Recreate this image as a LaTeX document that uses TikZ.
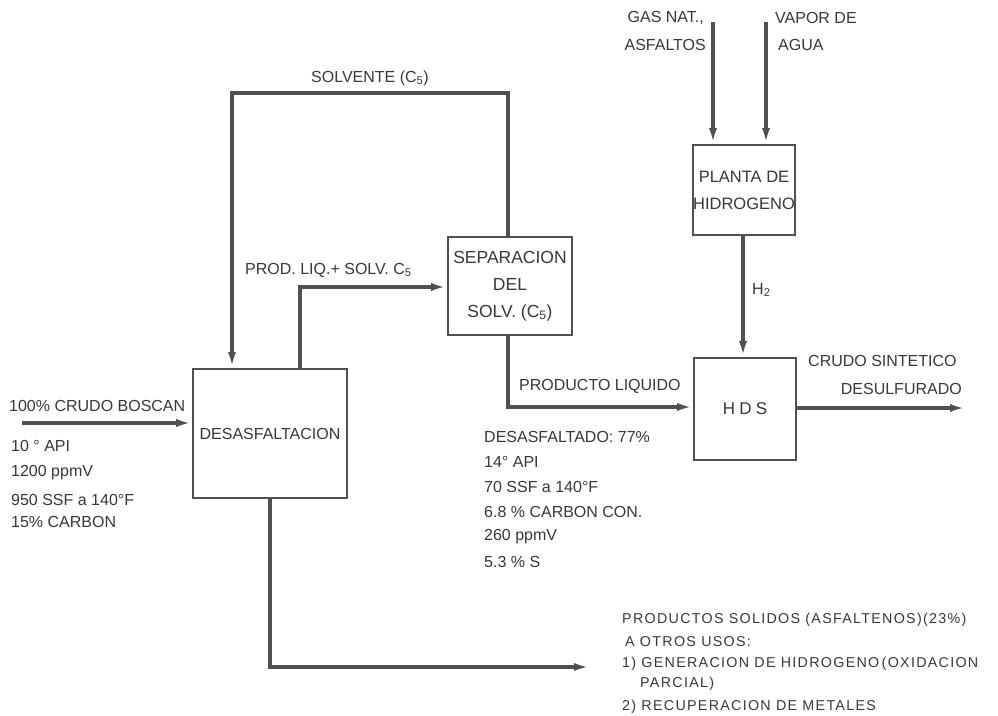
\documentclass[tikz,border=0pt]{standalone}
\usepackage{fontspec}
\setmainfont{Liberation Sans}
\newfontfamily\widefont[LetterSpace=9]{Liberation Sans}
\newfontfamily\hdsfont[LetterSpace=25]{Liberation Sans}
\usetikzlibrary{arrows.meta}
\definecolor{ink}{HTML}{505050}
\definecolor{txt}{HTML}{383838}
\begin{document}
\begin{tikzpicture}[x=1pt,y=-1pt,
  unit/.style={draw=ink,line width=1.8pt,minimum width=#1,inner sep=0pt,font=\fontsize{16}{27}\selectfont,text=txt,align=center},
  flow/.style={draw=ink,line width=3.2pt},
  arr/.style={flow,-{Latex[length=16pt,width=8pt]}},
  lbl/.style={text=txt,font=\fontsize{16}{19}\selectfont,inner sep=0pt},
  sml/.style={text=txt,font=\widefont\fontsize{14.3}{17}\selectfont,inner sep=0pt}]
\useasboundingbox (0,0) rectangle (998,715);
\fill[white] (0,0) rectangle (998,715);
% units
\node[unit=154pt,minimum height=129pt] (des) at (270,433.5) {DESASFALTACION};
\node[unit=124pt,minimum height=98pt,font=\fontsize{17.5}{27}\selectfont] (sep) at (510,286) {SEPARACION\\DEL\\SOLV. (C\textsubscript{5})};
\node[unit=102pt,minimum height=90pt,font=\fontsize{16.5}{27}\selectfont] (pla) at (744,190) {PLANTA DE\\HIDROGENO};
\node[unit=102pt,minimum height=102pt,font=\hdsfont\fontsize{17}{20}\selectfont] (hds) at (745,409) {HDS};
% free ends
\coordinate (cin) at (22,423);
\coordinate (gas) at (713,22);
\coordinate (vap) at (766,22);
\coordinate (cout) at (966,408);
\coordinate (sol) at (590,667);
% connectors
\draw[arr] (sep.north -| 508,0) |- (232,93) -- (232,0 |- des.north);
\draw[arr] (300,0 |- des.north) |- (sep.west |- 0,287);
\draw[arr] (sep.south -| 508,0) |- (hds.west |- 0,407);
\draw[arr] (cin) -- (des.west |- cin);
\draw[arr] (gas) -- (gas |- pla.north);
\draw[arr] (vap) -- (vap |- pla.north);
\draw[arr] (pla.south -| 743,0) -- (743,0 |- hds.north);
\draw[arr] (hds.east |- cout) -- (cout);
\draw[arr] (270,0 |- des.south) |- (sol);
% labels
\node[lbl] (l1) at (370,78) {SOLVENTE (C\textsubscript{5})};
\node[lbl,anchor=west] (l2) at (245,270) {PROD. LIQ.+ SOLV. C\textsubscript{5}};
\node[lbl,anchor=west] (l3) at (519,386) {PRODUCTO LIQUIDO};
\node[lbl,anchor=west] (l4) at (484,437) {DESASFALTADO: 77\%};
\node[lbl,anchor=west] (l5) at (484,462) {14° API};
\node[lbl,anchor=west] (l6) at (484,487) {70 SSF a 140°F};
\node[lbl,anchor=west] (l7) at (484,512) {6.8 \% CARBON CON.};
\node[lbl,anchor=west] (l8) at (484,537) {260 ppmV};
\node[lbl,anchor=west] (l9) at (484,562) {5.3 \% S};
\node[lbl,anchor=west] (c1) at (9,406) {100\% CRUDO BOSCAN};
\node[lbl,anchor=west] (c2) at (11,446) {10 ° API};
\node[lbl,anchor=west] (c3) at (11,473) {1200 ppmV};
\node[lbl,anchor=west] (c4) at (11,500) {950 SSF a 140°F};
\node[lbl,anchor=west] (c5) at (11,522) {15\% CARBON};
\node[lbl,anchor=east] (g1) at (704,18) {GAS NAT.,};
\node[lbl,anchor=east] (g2) at (706,45) {ASFALTOS};
\node[lbl,anchor=west] (v1) at (775,18) {VAPOR DE};
\node[lbl,anchor=west] (v2) at (778,45) {AGUA};
\node[lbl,anchor=west] (h2) at (752,290) {H\textsubscript{2}};
\node[lbl,anchor=west] (o1) at (808,361) {CRUDO SINTETICO};
\node[lbl,anchor=east] (o2) at (962,389) {DESULFURADO};
\node[sml,anchor=west] (s1) at (622,620) {PRODUCTOS SOLIDOS (ASFALTENOS)(23\%)};
\node[sml,anchor=west] (s2) at (625,642) {A OTROS USOS:};
\node[sml,anchor=west] (s3) at (622,664) {1) GENERACION DE HIDROGENO\,(OXIDACION};
\node[sml,anchor=west] (s4) at (640,684) {PARCIAL)};
\node[sml,anchor=west] (s5) at (622,707) {2) RECUPERACION DE METALES};
\end{tikzpicture}
\end{document}
